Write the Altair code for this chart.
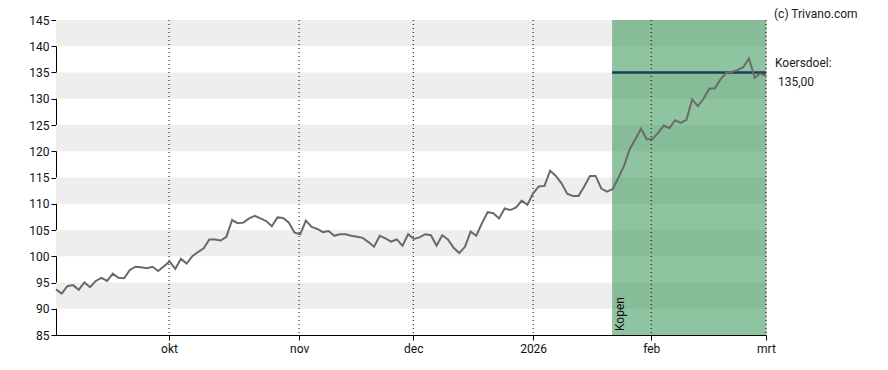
import altair as alt
import pandas as pd

# price series (one point per trading day, index 0..125)
prices = [
    93.7, 92.9, 94.3, 94.5, 93.6, 95.0, 94.1, 95.3, 95.9, 95.3,
    96.7, 95.9, 95.8, 97.4, 98.0, 97.9, 97.7, 98.0, 97.2, 98.1,
    99.0, 97.6, 99.5, 98.6, 100.0, 100.8, 101.5, 103.2, 103.2, 103.0,
    103.7, 106.9, 106.3, 106.4, 107.2, 107.7, 107.2, 106.7, 105.7, 107.4,
    107.3, 106.4, 104.5, 104.2, 106.8, 105.6, 105.2, 104.6, 104.8, 103.9,
    104.2, 104.2, 103.9, 103.7, 103.5, 102.7, 101.8, 103.9, 103.4, 102.8,
    103.2, 102.0, 104.2, 103.3, 103.6, 104.2, 104.0, 102.0, 104.0, 103.2,
    101.6, 100.6, 101.8, 104.7, 103.9, 106.3, 108.4, 108.2, 107.2, 109.1,
    108.8, 109.3, 110.6, 109.8, 112.0, 113.3, 113.4, 116.3, 115.3, 113.9,
    111.9, 111.5, 111.5, 113.3, 115.3, 115.3, 112.9, 112.3, 112.8, 114.9,
    117.2, 120.4, 122.3, 124.3, 122.3, 122.3, 123.5, 124.9, 124.4, 125.9,
    125.4, 126.0, 129.9, 128.6, 130.0, 131.9, 132.0, 133.7, 135.0, 135.1,
    135.5, 136.0, 137.7, 134.0, 134.8, 134.4,
]

# month ticks (positions on the trading-day index) and their labels
month_pos = [19.9, 42.8, 62.9, 84, 104.8, 125]
month_lbl = ["okt", "nov", "dec", "2026", "feb", "mrt"]

# y ticks
y_ticks = [85, 90, 95, 100, 105, 110, 115, 120, 125, 130, 135, 140, 145]

# shaded horizontal bands
band_lo = [90, 100, 110, 120, 130, 140]
band_hi = [95, 105, 115, 125, 135, 145]

# advice zone and target
advice_start = 97.9
advice_end = 125
advice_label = "Kopen"
target = 135.0
target_lbl1 = "Koersdoel:"
target_lbl2 = "135,00"
credit = "(c) Trivano.com"

X_DOM = [0, 125]
Y_DOM = [85, 145]

df = pd.DataFrame({"i": list(range(len(prices))), "p": prices})
bands = pd.DataFrame({"lo": band_lo, "hi": band_hi})
months = pd.DataFrame({"pos": month_pos, "lbl": month_lbl})
zone = pd.DataFrame({"x0": [advice_start], "x1": [advice_end], "y0": [Y_DOM[0]], "y1": [Y_DOM[1]],
                     "t": [target], "lab": [advice_label]})

lbl_map = "{" + ",".join(f"'{p:g}':'{l}'" for p, l in zip(month_pos, month_lbl)) + "}"

xs = alt.Scale(domain=X_DOM, nice=False, zero=False)
ys = alt.Scale(domain=Y_DOM, nice=False, zero=False)

x_axis = alt.Axis(values=month_pos, labelExpr=f"{lbl_map}[''+datum.value]", grid=False,
                  title=None, tickSize=5, labelPadding=3, domainColor="black", tickColor="black",
                  labelFontSize=12, labelColor="#111", labelFont="Roboto",
                  labelOverlap=False, labelBound=False, labelFlush=False)
y_axis = alt.Axis(values=y_ticks, grid=False, title=None, tickSize=5,
                  labelPadding=2, domainColor="black", tickColor="black", labelFontSize=12,
                  labelColor="#111", labelFont="Roboto", labelOverlap=False, labelFlush=False,
                  labelBound=False)


def X(f):
    return alt.X(f, scale=xs, axis=x_axis)


def Y(f):
    return alt.Y(f, scale=ys, axis=y_axis)


band_layer = alt.Chart(bands).mark_rect(color="#eeeeee").encode(
    x=alt.value(0), x2=alt.value(710), y=Y("lo:Q"), y2="hi:Q",
)

green = alt.Chart(zone).mark_rect(color="#339452", opacity=0.55).encode(
    x=X("x0:Q"), x2="x1:Q", y=Y("y0:Q"), y2="y1:Q",
)

grid = alt.Chart(months).mark_rule(color="black", strokeDash=[1, 3], strokeWidth=1).encode(
    x=X("pos:Q"), y=alt.value(0), y2=alt.value(315),
)

target_line = alt.Chart(zone).mark_rule(color="#1b3d5e", strokeWidth=2.5).encode(
    x=X("x0:Q"), x2="x1:Q", y=Y("t:Q"),
)

line = alt.Chart(df).mark_line(color="#6a6a6a", strokeWidth=2).encode(
    x=X("i:Q"), y=Y("p:Q"),
)

kopen = alt.Chart(zone).mark_text(angle=270, align="left", baseline="top", dx=4, dy=3,
                                  fontSize=12, font="Roboto", color="#111").encode(
    x=X("x0:Q"), y=Y("y0:Q"), text="lab:N",
)

tl1 = alt.Chart(zone).mark_text(align="left", baseline="middle", dx=9, dy=-9.5,
                                fontSize=12, font="Roboto", color="#222").encode(
    x=X("x1:Q"), y=Y("t:Q"), text=alt.value(target_lbl1),
)
tl2 = alt.Chart(zone).mark_text(align="left", baseline="middle", dx=12, dy=9.5,
                                fontSize=12, font="Roboto", color="#222").encode(
    x=X("x1:Q"), y=Y("t:Q"), text=alt.value(target_lbl2),
)
cr = alt.Chart(zone).mark_text(align="left", baseline="top", dx=8, dy=-11,
                               fontSize=12, font="Roboto", color="#222").encode(
    x=X("x1:Q"), y=Y("y1:Q"), text=alt.value(credit),
)

chart = alt.layer(band_layer, green, grid, target_line, line, kopen, tl1, tl2, cr).properties(
    width=710, height=315,
    autosize=alt.AutoSizeParams(type="none"),
    padding={"left": 48, "top": 12, "right": 110, "bottom": 25},
).configure_view(stroke="black", strokeWidth=1).configure(background="white")

chart.save("out.html", embed_options={"renderer": "svg", "actions": False})
